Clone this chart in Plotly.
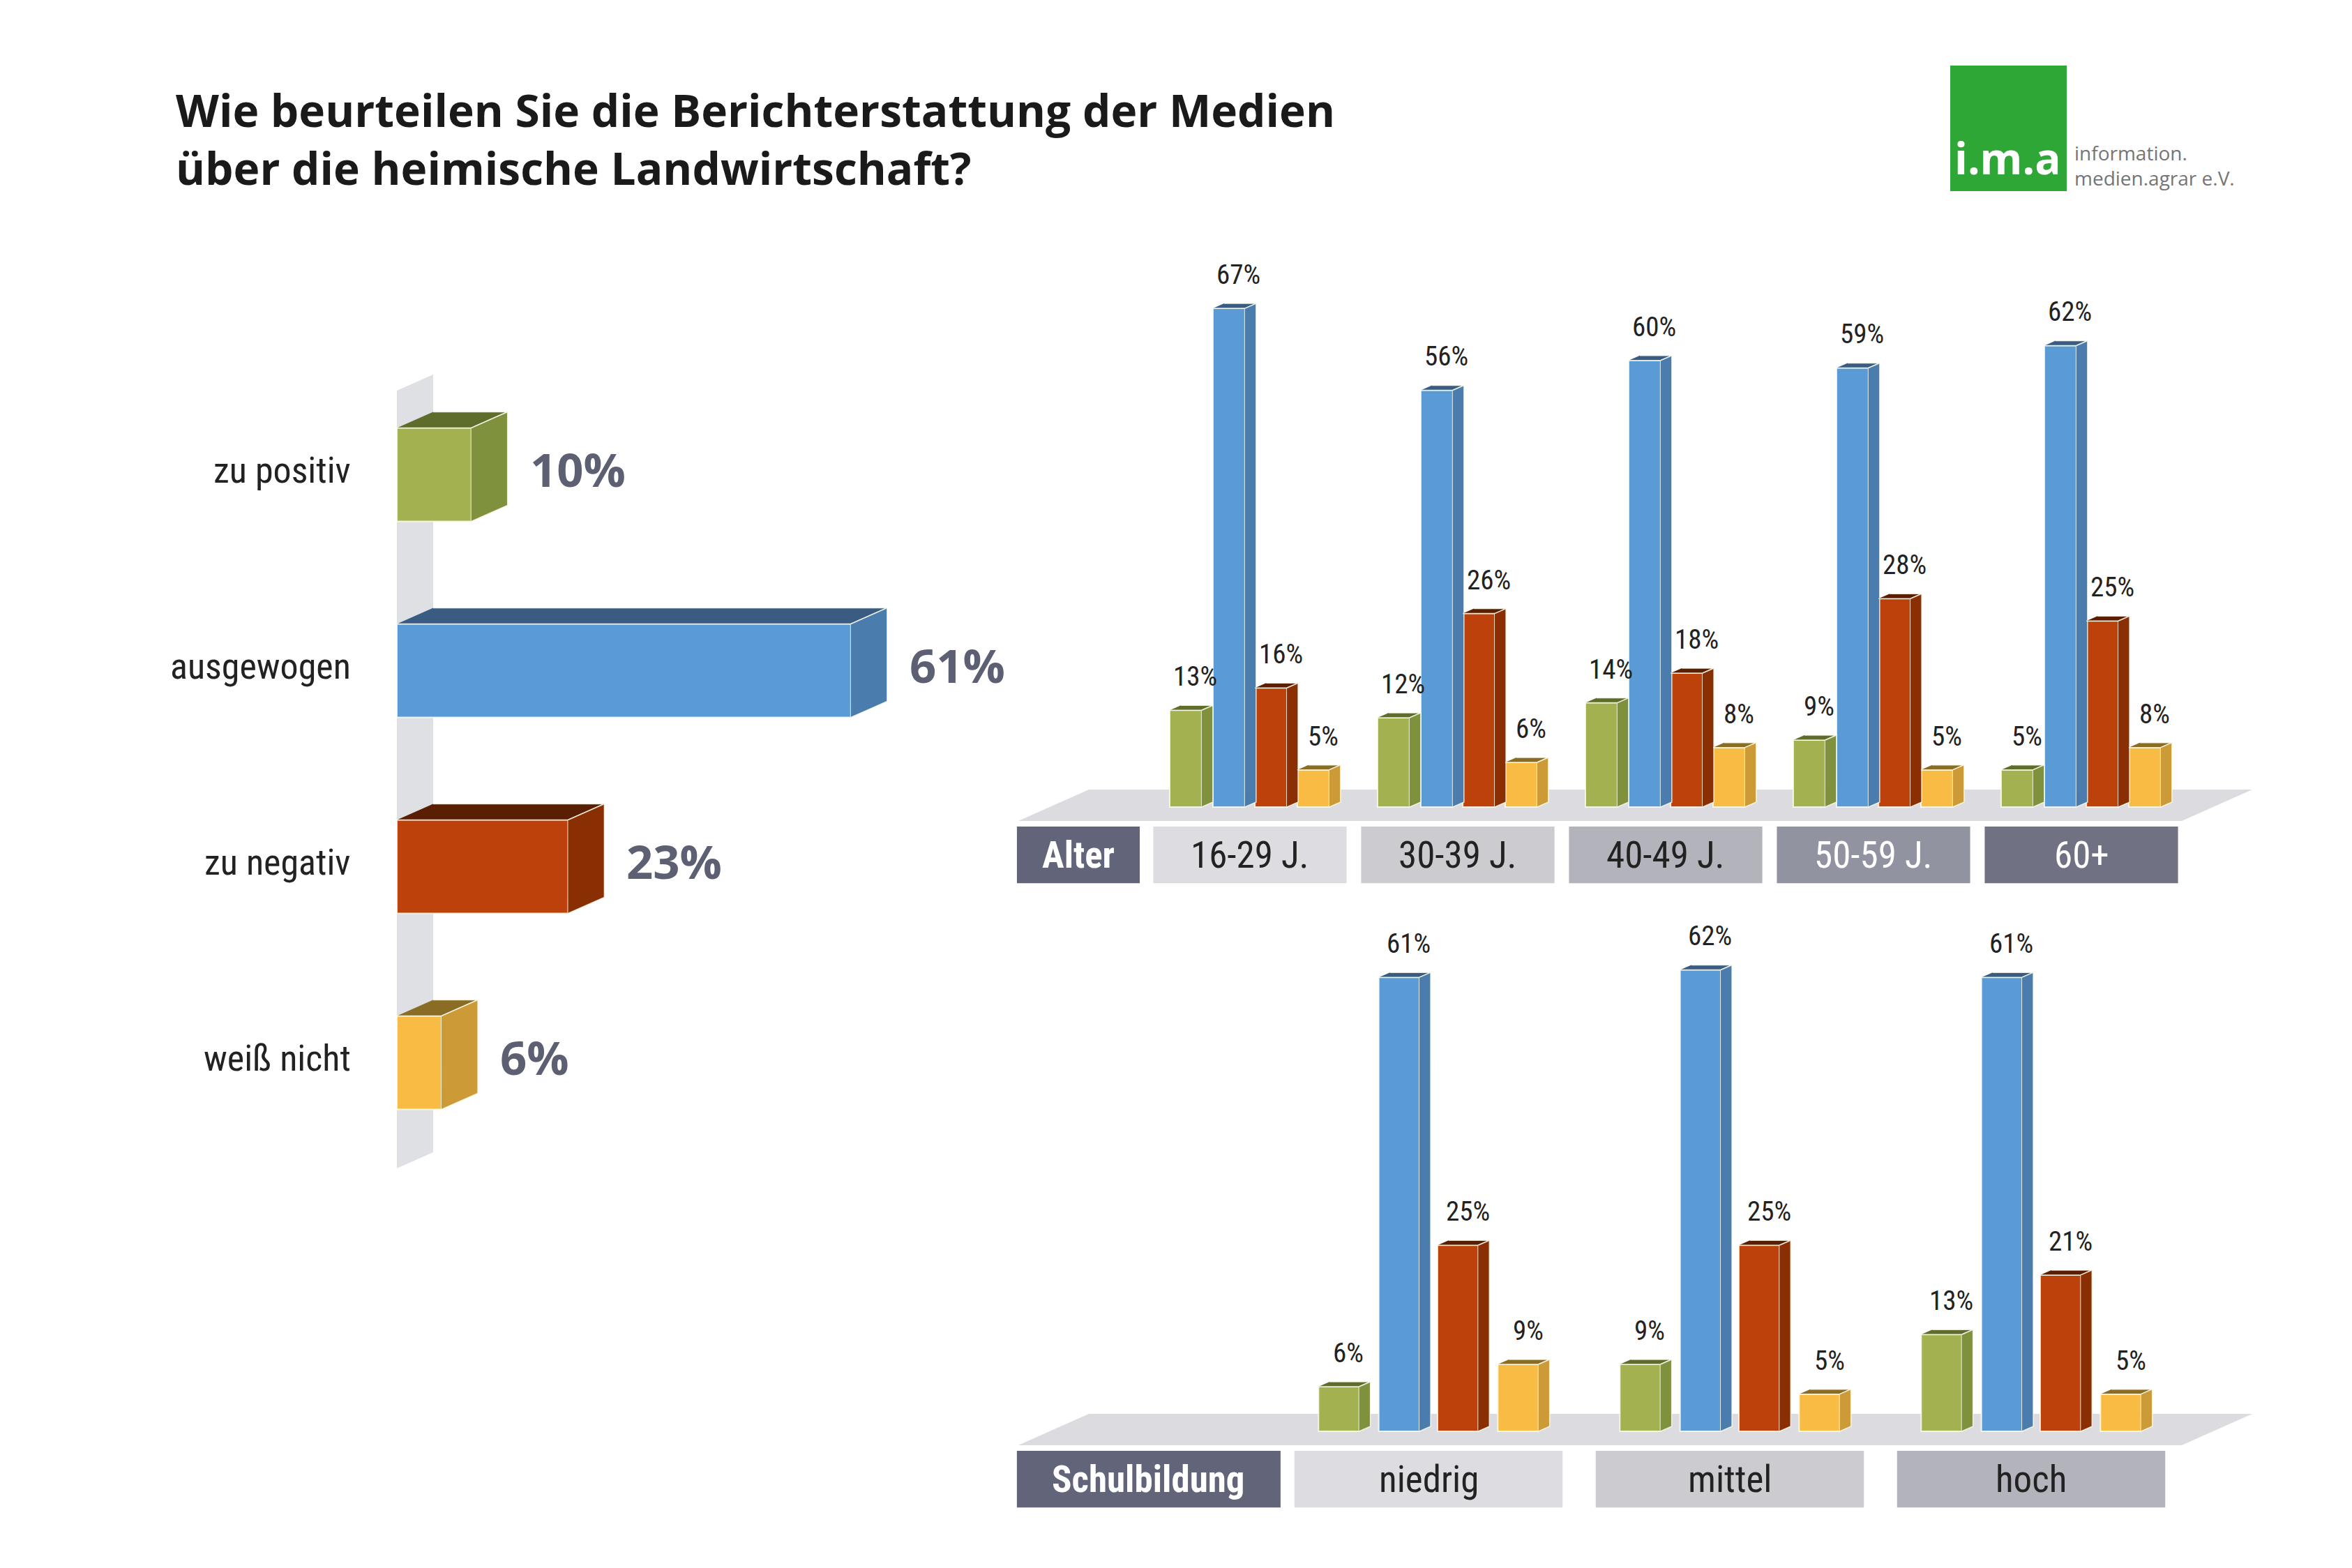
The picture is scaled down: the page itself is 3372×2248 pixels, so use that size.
import plotly.graph_objects as go

# Gesamt
answers = ["zu positiv", "ausgewogen", "zu negativ", "weiß nicht"]
total = [10, 61, 23, 6]

# nach Alter
age_groups = ["16-29 J.", "30-39 J.", "40-49 J.", "50-59 J.", "60+"]
age_pos = [13, 12, 14, 9, 5]
age_bal = [67, 56, 60, 59, 62]
age_neg = [16, 26, 18, 28, 25]
age_dk = [5, 6, 8, 5, 8]

# nach Schulbildung
edu_groups = ["niedrig", "mittel", "hoch"]
edu_pos = [6, 9, 13]
edu_bal = [61, 62, 61]
edu_neg = [25, 25, 21]
edu_dk = [9, 5, 5]

W, H = 3372, 2248
COND = "Liberation Sans Narrow, Roboto Condensed, Open Sans, sans-serif"

# front / side / top colour per answer
front = ["#a3b150", "#5b9bd5", "#bd410b", "#f8bb43"]
side = ["#7f913d", "#4a7cae", "#8a2e03", "#cc9a36"]
top = ["#5e6d2c", "#3a5c82", "#5a1f02", "#8a6c24"]
edge = "rgba(255,255,240,0.8)"

PXP = 10.67  # pixel per percent, same in all three panels


def xdom(a, b):
    return [a / W, b / W]


def ydom(t, b):
    return [1 - b / H, 1 - t / H]


fig = go.Figure()
shapes = []
annotations = []


def poly_trace(polys, color, xa, ya):
    xs, ys = [], []
    for p in polys:
        for px_, py_ in p:
            xs.append(px_)
            ys.append(py_)
        xs.append(None)
        ys.append(None)
    fig.add_trace(go.Scatter(x=xs, y=ys, mode="lines", fill="toself", fillcolor=color,
                             line=dict(color=edge, width=1.5), hoverinfo="skip",
                             showlegend=False, xaxis=xa, yaxis=ya))


# ---------- left: total, horizontal ----------
ROW = 281            # px per row
dxh = 52 / PXP       # depth in %
dyh = 23 / ROW       # depth in row units
bw = 134 / ROW

# grey back strip
shapes.append(dict(type="path", xref="x", yref="y", layer="below", line_width=0,
                   fillcolor="#dfe0e4",
                   path=f"M 0,-0.429 L {dxh},{-0.429 - dyh} L {dxh},{3.539 - dyh} L 0,3.539 Z"))

rows = list(range(len(answers)))
fig.add_trace(go.Bar(x=total, y=rows, orientation="h", width=bw, base=0,
                     marker=dict(color=front, line=dict(color=edge, width=2)),
                     showlegend=False, hoverinfo="skip", xaxis="x", yaxis="y"))
for i, v in enumerate(total):
    y0, y1 = i - bw / 2, i + bw / 2
    poly_trace([[(0, y0), (v, y0), (v + dxh, y0 - dyh), (dxh, y0 - dyh)]], top[i], "x", "y")
    poly_trace([[(v, y0), (v + dxh, y0 - dyh), (v + dxh, y1 - dyh), (v, y1)]], side[i], "x", "y")

for i, (a, v) in enumerate(zip(answers, total)):
    annotations.append(dict(x=0, y=i, xref="x", yref="y", text=a, showarrow=False,
                            xanchor="right", xshift=-64, yshift=6,
                            font=dict(family=COND, size=52, color="#222222")))
    annotations.append(dict(x=v + dxh, y=i, xref="x", yref="y", text=f"{v}%", showarrow=False,
                            xanchor="left", xshift=30, yshift=9,
                            font=dict(family="Open Sans, sans-serif", size=67,
                                      color="#5d5f72", weight="bold")))


# ---------- grouped 3D columns ----------
def columns(groups, series, offsets, width, dx, dy, xa, ya, floor, boxes, head):
    for k, vals in enumerate(series):
        xs = [g + offsets[k] for g in range(len(groups))]
        fig.add_trace(go.Bar(x=xs, y=vals, width=width, base=0,
                             marker=dict(color=front[k], line=dict(color=edge, width=2)),
                             showlegend=False, hoverinfo="skip", xaxis=xa, yaxis=ya))
        tops, sides = [], []
        for x, v in zip(xs, vals):
            x0, x1 = x - width / 2, x + width / 2
            tops.append([(x0, v), (x1, v), (x1 + dx, v + dy), (x0 + dx, v + dy)])
            sides.append([(x1, 0), (x1 + dx, dy), (x1 + dx, v + dy), (x1, v)])
            annotations.append(dict(x=x + dx / 2, y=v + dy, xref=xa, yref=ya, text=f"{v}%",
                                    showarrow=False, yanchor="bottom", xshift=6, yshift=16,
                                    font=dict(family=COND, size=39, color="#222222")))
        poly_trace(tops, top[k], xa, ya)
        poly_trace(sides, side[k], xa, ya)

    # floor
    fl, fr, bl, br, ft, fb = floor
    shapes.append(dict(type="path", xref=xa, yref=ya, layer="below", line_width=0,
                       fillcolor="#dcdce0",
                       path=f"M {fl},{ft} L {fr},{ft} L {br},{fb} L {bl},{fb} Z"))
    # label boxes
    hx0, hx1, hcol = head[1], head[2], head[3]
    shapes.append(dict(type="rect", xref=xa, yref=ya, x0=hx0, x1=hx1, y0=-10.23, y1=-2.63,
                       fillcolor=hcol, line_width=0, layer="below"))
    annotations.append(dict(x=(hx0 + hx1) / 2, y=-6.43, xref=xa, yref=ya, text=head[0],
                            showarrow=False,
                            font=dict(family=COND, size=53, color="white", weight="bold")))
    half, cols, tcols = boxes
    for g, name in enumerate(groups):
        shapes.append(dict(type="rect", xref=xa, yref=ya, x0=g - half, x1=g + half,
                           y0=-10.23, y1=-2.63, fillcolor=cols[g], line_width=0, layer="below"))
        annotations.append(dict(x=g, y=-6.43, xref=xa, yref=ya, text=name, showarrow=False,
                                font=dict(family=COND, size=53, color=tcols[g])))


columns(age_groups, [age_pos, age_bal, age_neg, age_dk],
        [-0.309, -0.101, 0.101, 0.305], 0.154, 16 / 298, 7 / PXP, "x2", "y2",
        (-0.775, 4.822, -1.114, 4.483, 2.35, -1.88),
        (0.465, ["#dcdce1", "#cbcbd0", "#b3b3bb", "#9193a1", "#707284"],
         ["#222222", "#222222", "#222222", "white", "white"]),
        ("Alter", -1.121, -0.530, "#62657a"))

columns(edu_groups, [edu_pos, edu_bal, edu_neg, edu_dk],
        [-0.2975, -0.0975, 0.0975, 0.2975], 0.135, 16 / 432, 7 / PXP, "x3", "y3",
        (-1.127, 2.734, -1.361, 2.5, 2.35, -1.88),
        (0.445, ["#dcdce1", "#cbcbd0", "#b3b3bb"], ["#222222", "#222222", "#222222"]),
        ("Schulbildung", -1.366, -0.491, "#62657a"))

# logo
shapes.append(dict(type="rect", xref="paper", yref="paper",
                   x0=2788 / W, x1=2955 / W, y0=1 - 266 / H, y1=1 - 86 / H,
                   fillcolor="#2ea737", line_width=0))
annotations.append(dict(x=2792 / W, y=1 - 262 / H, xref="paper", yref="paper", text="i.m.a",
                        showarrow=False, xanchor="left", yanchor="bottom",
                        font=dict(family="Open Sans, sans-serif", size=62, color="white",
                                  weight="bold")))
annotations.append(dict(x=2964 / W, y=1 - 268 / H, xref="paper", yref="paper",
                        text="information.<br>medien.agrar e.V.", showarrow=False, align="left",
                        xanchor="left", yanchor="bottom",
                        font=dict(family="Open Sans, sans-serif", size=28, color="#757575")))

ax_off = dict(visible=False, showgrid=False, zeroline=False, fixedrange=True)

fig.update_layout(
    width=W, height=H, autosize=False,
    margin=dict(l=0, r=0, t=0, b=0),
    paper_bgcolor="white", plot_bgcolor="rgba(0,0,0,0)",
    barmode="overlay", showlegend=False,
    title=dict(text="Wie beurteilen Sie die Berichterstattung der Medien<br>über die heimische Landwirtschaft?",
               x=244 / W, xanchor="left", y=1 - 174 / H, yanchor="top",
               font=dict(family="Open Sans, sans-serif", size=64, color="#1a1a1a", weight="bold")),
    xaxis=dict(domain=xdom(561, 561 + 80 * PXP), range=[0, 80], **ax_off),
    yaxis=dict(domain=ydom(672.5 - 0.8 * ROW, 672.5 + 3.8 * ROW), range=[3.8, -0.8], **ax_off),
    xaxis2=dict(domain=xdom(1784 - 1.2 * 298, 1784 + 4.85 * 298), range=[-1.2, 4.85],
                anchor="y2", **ax_off),
    yaxis2=dict(domain=ydom(1149 - 75 * PXP, 1149 + 11 * PXP), range=[-11, 75], anchor="x2", **ax_off),
    xaxis3=dict(domain=xdom(2040 - 1.42 * 432, 2040 + 2.753 * 432), range=[-1.42, 2.753],
                anchor="y3", **ax_off),
    yaxis3=dict(domain=ydom(2044 - 70 * PXP, 2044 + 11 * PXP), range=[-11, 70], anchor="x3", **ax_off),
    shapes=shapes,
    annotations=annotations,
)

fig.write_html("out.html")
